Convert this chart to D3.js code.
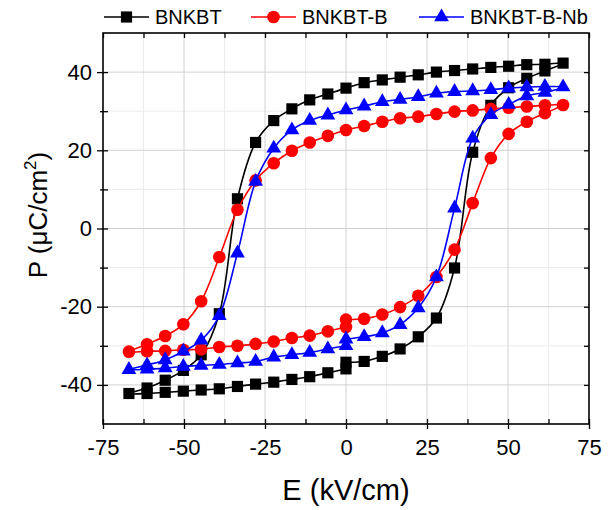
<!DOCTYPE html>
<html>
<head>
<meta charset="utf-8">
<script src="https://cdn.jsdelivr.net/npm/d3@7"></script>
<style>
body { margin: 0; background: #fff; }
svg text { font-family: "Liberation Sans", Arial, sans-serif; fill: #000; }
</style>
</head>
<body>
<svg id="chart" width="608" height="510"></svg>
<script>
// field sweep: 0 -> +Emax -> -Emax -> 0
const eField = [0, 5.6, 11.2, 16.7, 22.3, 27.9, 33.5, 39.1, 44.7, 50.2, 55.8, 61.4, 67,
    61.4, 55.8, 50.2, 44.7, 39.1, 33.5, 27.9, 22.3, 16.7, 11.2, 5.6, 0,
    -5.6, -11.2, -16.7, -22.3, -27.9, -33.5, -39.1, -44.7, -50.2, -55.8, -61.4, -67,
    -61.4, -55.8, -50.2, -44.7, -39.1, -33.5, -27.9, -22.3, -16.7, -11.2, -5.6, 0];

const pBNKBT = [-34.2, -34.0, -32.7, -30.8, -27.7, -22.9, -10.1, 19.5, 31.5, 36.0, 38.4, 40.3, 42.3,
    42.0, 41.9, 41.5, 41.2, 40.8, 40.4, 40.0, 39.3, 38.7, 38.0, 37.3, 35.9,
    34.4, 32.9, 30.6, 27.6, 22.0, 7.6, -21.8, -32.3, -36.3, -38.8, -40.8, -42.2,
    -42.2, -41.9, -41.6, -41.3, -41.0, -40.4, -39.8, -39.3, -38.6, -37.9, -36.9, -35.9];

const pBNKBT_B = [-23.3, -23.1, -22.0, -20.1, -17.2, -12.4, -5.4, 6.5, 18.0, 24.2, 27.3, 29.5, 31.6,
    31.5, 31.2, 30.9, 30.6, 30.2, 29.9, 29.3, 28.6, 28.2, 27.3, 26.2, 25.2,
    23.7, 22.0, 19.9, 16.7, 12.3, 4.8, -7.3, -18.6, -24.5, -27.5, -29.6, -31.5,
    -31.4, -31.3, -31.0, -30.9, -30.3, -30.0, -29.5, -28.9, -28.0, -27.4, -26.3, -25.2];

const pBNKBT_B_Nb = [-28.3, -27.7, -26.7, -24.6, -20.3, -12.4, 5.2, 23.1, 29.1, 31.7, 33.9, 34.8, 36.2,
    36.3, 36.2, 35.9, 35.5, 35.2, 35.0, 34.6, 33.7, 33.0, 32.4, 31.3, 30.3,
    29.0, 27.6, 25.2, 20.5, 12.0, -6.3, -22.3, -28.6, -31.4, -33.6, -34.9, -36.1,
    -36.0, -35.7, -35.3, -35.0, -34.8, -34.4, -34.0, -32.9, -32.3, -31.7, -30.8, -30.0];

const seriesNames = ["BNKBT", "BNKBT-B", "BNKBT-B-Nb"];
const seriesValues = [pBNKBT, pBNKBT_B, pBNKBT_B_Nb];
const seriesColors = ["#000000", "#ff0000", "#0000ff"];
const seriesShapes = [d3.symbolSquare, d3.symbolCircle, d3.symbolTriangle];
const shapeSizes = [125, 125, 95];

const xTicks = [-75, -50, -25, 0, 25, 50, 75];
const xMinor = [-62.5, -37.5, -12.5, 12.5, 37.5, 62.5];
const yTicks = [-40, -20, 0, 20, 40];
const yMinor = [-30, -10, 10, 30];

const svg = d3.select('#chart');
const plotLeft = 103, plotRight = 589, plotTop = 33, plotBottom = 424;

const x = d3.scaleLinear().domain([-75, 75]).range([plotLeft, plotRight]);
const y = d3.scaleLinear().domain([-50, 50]).range([plotBottom, plotTop]);

// grid
let grid = svg.append('g');
grid.selectAll('.gxm').data(xMinor).join('line')
    .attr('x1', d => x(d)).attr('x2', d => x(d)).attr('y1', plotTop).attr('y2', plotBottom)
    .attr('stroke', '#ececec').attr('stroke-width', 1);
grid.selectAll('.gym').data(yMinor).join('line')
    .attr('y1', d => y(d)).attr('y2', d => y(d)).attr('x1', plotLeft).attr('x2', plotRight)
    .attr('stroke', '#ececec').attr('stroke-width', 1);
grid.selectAll('.gx').data(xTicks.slice(1, -1)).join('line')
    .attr('x1', d => x(d)).attr('x2', d => x(d)).attr('y1', plotTop).attr('y2', plotBottom)
    .attr('stroke', '#d2d2d2').attr('stroke-width', 1);
grid.selectAll('.gy').data(yTicks).join('line')
    .attr('y1', d => y(d)).attr('y2', d => y(d)).attr('x1', plotLeft).attr('x2', plotRight)
    .attr('stroke', '#d2d2d2').attr('stroke-width', 1);

// axes: outward ticks on bottom/left, inward ticks all round
const plainNum = d => String(d); // hyphen minus like the original
const xAxis = d3.axisBottom(x).tickValues(xTicks).tickSize(5).tickPadding(9).tickFormat(plainNum);
const yAxis = d3.axisLeft(y).tickValues(yTicks).tickSize(6).tickPadding(5).tickFormat(plainNum);

let gx = svg.append('g').attr('transform', `translate(0,${plotBottom})`).call(xAxis);
let gy = svg.append('g').attr('transform', `translate(${plotLeft},0)`).call(yAxis);
[gx, gy].forEach(g => {
    g.select('.domain').remove();
    g.selectAll('line').attr('stroke', '#000').attr('stroke-width', 1.3);
    g.selectAll('text').attr('font-size', 22).attr('font-family', '"Liberation Sans", Arial, sans-serif');
});
gx.selectAll('text').attr('dy', '0.75em');

svg.append('g').attr('transform', `translate(${plotLeft},0)`)
    .call(d3.axisLeft(y).tickValues(yMinor).tickSize(3).tickFormat(''))
    .call(g => g.select('.domain').remove())
    .selectAll('line').attr('stroke', '#000').attr('stroke-width', 1.3);

const inTicks = [
    [d3.axisTop(x), plotBottom, 'x'], [d3.axisBottom(x), plotTop, 'x'],
    [d3.axisRight(y), plotLeft, 'y'], [d3.axisLeft(y), plotRight, 'y']
];
inTicks.forEach(([ax, pos, dim]) => {
    let vals = dim == 'x' ? xTicks.concat(xMinor) : yTicks.concat(yMinor);
    svg.append('g')
        .attr('transform', dim == 'x' ? `translate(0,${pos})` : `translate(${pos},0)`)
        .call(ax.tickValues(vals).tickSize(5).tickFormat(''))
        .call(g => g.select('.domain').remove())
        .selectAll('line').attr('stroke', '#000').attr('stroke-width', 1.3);
});

// frame
svg.append('rect')
    .attr('x', plotLeft).attr('y', plotTop).attr('width', plotRight - plotLeft).attr('height', plotBottom - plotTop)
    .attr('fill', 'none').attr('stroke', '#000').attr('stroke-width', 1.6);

// loops
const line = d3.line().x(d => x(d[0])).y(d => y(d[1])).curve(d3.curveCatmullRom.alpha(0.5));

seriesValues.forEach((vals, i) => {
    let pts = eField.map((e, j) => [e, vals[j]]);
    let g = svg.append('g');
    g.append('path').attr('d', line(pts))
        .attr('fill', 'none').attr('stroke', seriesColors[i]).attr('stroke-width', 1.6);
    g.selectAll('path.mk').data(pts).join('path')
        .attr('class', 'mk')
        .attr('transform', d => `translate(${x(d[0])},${y(d[1])})`)
        .attr('d', d3.symbol().type(seriesShapes[i]).size(shapeSizes[i]))
        .attr('fill', seriesColors[i]);
});

// legend
const legendX = [104, 251, 419];
const legend = svg.append('g');
seriesNames.forEach((name, i) => {
    let lg = legend.append('g').attr('transform', `translate(${legendX[i]},17)`);
    lg.append('line').attr('x1', 0).attr('x2', 45).attr('y1', 0).attr('y2', 0)
        .attr('stroke', seriesColors[i]).attr('stroke-width', 1.6);
    lg.append('path').attr('transform', 'translate(22.5,0)')
        .attr('d', d3.symbol().type(seriesShapes[i]).size(shapeSizes[i]))
        .attr('fill', seriesColors[i]);
    lg.append('text').attr('x', 51).attr('y', 0).attr('dy', '0.36em')
        .attr('font-size', 20).text(name);
});

// axis titles
svg.append('text').attr('x', (plotLeft + plotRight) / 2).attr('y', 500)
    .attr('text-anchor', 'middle').attr('font-size', 29).text('E (kV/cm)');

let yt = svg.append('text').attr('transform', 'translate(47,215) rotate(-90)')
    .attr('text-anchor', 'middle').attr('font-size', 26);
yt.append('tspan').text('P (μC/cm');
yt.append('tspan').attr('font-size', 17).attr('dy', -11).text('2');
yt.append('tspan').attr('dy', 11).text(')');
</script>
</body>
</html>
